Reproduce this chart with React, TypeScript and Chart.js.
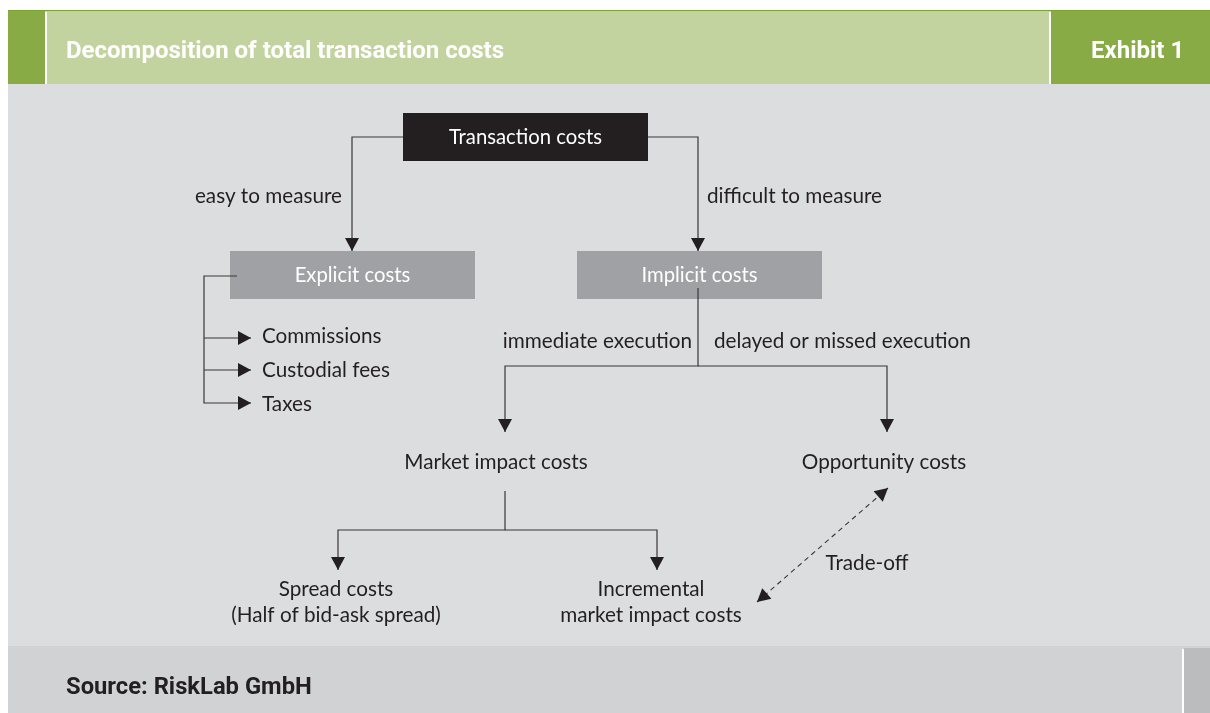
import React, { useEffect, useRef } from "react";
import { Chart, registerables } from "chart.js";

Chart.register(...registerables);

// ---- text content ----
const titleText = "Decomposition of total transaction costs";
const exhibitText = "Exhibit 1";
const sourceText = "Source: RiskLab GmbH";

// ---- boxes (diagram coordinates) ----
const boxLabels = ["Transaction costs", "Explicit costs", "Implicit costs"];
const boxLeft = [403, 230, 577];
const boxRight = [648, 475, 822];
const boxTop = [113, 251, 251];
const boxBottom = [161, 299, 299];
const boxFill = ["#231f20", "#a0a1a4", "#a0a1a4"];

// ---- free labels ----
const labelTexts = [
  "easy to measure",
  "difficult to measure",
  "Commissions",
  "Custodial fees",
  "Taxes",
  "immediate execution",
  "delayed or missed execution",
  "Market impact costs",
  "Opportunity costs",
  "Spread costs",
  "(Half of bid-ask spread)",
  "Incremental",
  "market impact costs",
  "Trade-off",
];
const labelX = [342, 707, 262, 262, 262, 692, 714, 496, 884, 336, 336, 651, 651, 867];
const labelY = [196, 196, 336, 370, 404, 341, 341, 462, 462, 589, 615, 589, 615, 563];
const labelAlign: CanvasTextAlign[] = [
  "right", "left", "left", "left", "left", "right", "left",
  "center", "center", "center", "center", "center", "center", "center",
];

// ---- connectors (polylines) ----
const connectorPaths: number[][][] = [
  [[403, 137], [352, 137], [352, 251]],
  [[648, 137], [698, 137], [698, 251]],
  [[237, 276], [204, 276], [204, 403], [251, 403]],
  [[204, 338], [251, 338]],
  [[204, 370], [251, 370]],
  [[698, 288], [698, 366], [505, 366], [505, 432]],
  [[698, 366], [887, 366], [887, 432]],
  [[505, 491], [505, 530], [338, 530], [338, 570]],
  [[505, 530], [657, 530], [657, 570]],
];
const connectorArrowEnd = [true, true, true, true, true, true, true, true, true];
const tradeOffPath: number[][] = [[757, 602], [888, 488]];

const INK = "#231f20";

function drawText(
  ctx: CanvasRenderingContext2D,
  text: string,
  x: number,
  y: number,
  font: string,
  color: string,
  align: CanvasTextAlign,
  sx = 1
) {
  ctx.save();
  ctx.font = font;
  ctx.fillStyle = color;
  ctx.textBaseline = "middle";
  ctx.textAlign = align;
  ctx.translate(x, y);
  ctx.scale(sx, 1);
  ctx.fillText(text, 0, 0);
  ctx.restore();
}

function arrowHead(ctx: CanvasRenderingContext2D, fx: number, fy: number, tx: number, ty: number, len = 13, half = 7) {
  const dx = tx - fx;
  const dy = ty - fy;
  const d = Math.hypot(dx, dy) || 1;
  const ux = dx / d;
  const uy = dy / d;
  const bx = tx - ux * len;
  const by = ty - uy * len;
  ctx.beginPath();
  ctx.moveTo(tx, ty);
  ctx.lineTo(bx - uy * half, by + ux * half);
  ctx.lineTo(bx + uy * half, by - ux * half);
  ctx.closePath();
  ctx.fillStyle = INK;
  ctx.fill();
}

const diagramPlugin = {
  id: "diagram",
  beforeDraw(chart: any) {
    const { ctx, scales } = chart;
    const X = (v: number) => scales.x.getPixelForValue(v);
    const Y = (v: number) => scales.y.getPixelForValue(v);
    const rect = (x0: number, y0: number, x1: number, y1: number, c: string) => {
      ctx.fillStyle = c;
      ctx.fillRect(X(x0), Y(y0), X(x1) - X(x0), Y(y1) - Y(y0));
    };
    ctx.save();
    // body
    rect(8, 84, 1210, 646, "#dcdddf");
    // header
    rect(8, 10, 1210, 84, "#c3d3a0");
    rect(8, 10, 45, 84, "#89ab46");
    rect(1051, 10, 1210, 84, "#89ab46");
    rect(45, 12, 47, 84, "#ffffff");
    rect(1049, 12, 1051, 84, "#ffffff");
    rect(8, 10, 1210, 11, "#79a332");
    // footer
    rect(8, 646, 1210, 713, "#d1d2d4");
    rect(1184, 648, 1210, 713, "#bbbcbe");
    rect(1182, 649, 1184, 713, "#ffffff");

    drawText(ctx, titleText, X(66), Y(52), "bold 24px Roboto", "#ffffff", "left", 1.0);
    drawText(ctx, exhibitText, X(1091), Y(52), "bold 24px Roboto", "#ffffff", "left", 1.0);
    drawText(ctx, sourceText, X(66), Y(688), "bold 24px Roboto", INK, "left", 0.99);

    // boxes
    for (let i = 0; i < boxLabels.length; i++) {
      rect(boxLeft[i], boxTop[i], boxRight[i], boxBottom[i], boxFill[i]);
    }
    ctx.restore();
  },
  afterDatasetsDraw(chart: any) {
    const { ctx, scales } = chart;
    const X = (v: number) => scales.x.getPixelForValue(v);
    const Y = (v: number) => scales.y.getPixelForValue(v);
    ctx.save();
    chart.data.datasets.forEach((ds: any, i: number) => {
      const meta = chart.getDatasetMeta(i);
      const pts = meta.data;
      if (pts.length < 2) return;
      if (ds.arrowEnd) {
        const a = pts[pts.length - 2];
        const b = pts[pts.length - 1];
        arrowHead(ctx, a.x, a.y, b.x, b.y);
      }
      if (ds.arrowStart) {
        const a = pts[1];
        const b = pts[0];
        arrowHead(ctx, a.x, a.y, b.x, b.y);
      }
    });
    for (let i = 0; i < boxLabels.length; i++) {
      drawText(
        ctx,
        boxLabels[i],
        X((boxLeft[i] + boxRight[i]) / 2),
        Y((boxTop[i] + boxBottom[i]) / 2),
        "20.3px Lato",
        "#ffffff",
        "center"
      );
    }
    for (let i = 0; i < labelTexts.length; i++) {
      drawText(ctx, labelTexts[i], X(labelX[i]), Y(labelY[i]), "20.7px Lato", INK, labelAlign[i]);
    }
    ctx.restore();
  },
};

export default function App() {
  const ref = useRef<HTMLCanvasElement | null>(null);
  useEffect(() => {
    if (!ref.current) return;
    const datasets: any[] = connectorPaths.map((path, i) => ({
      data: path.map(([x, y]) => ({ x, y })),
      showLine: true,
      borderColor: "#3a3637",
      borderWidth: 1.2,
      pointRadius: 0,
      pointHoverRadius: 0,
      fill: false,
      tension: 0,
      arrowEnd: connectorArrowEnd[i],
    }));
    datasets.push({
      data: tradeOffPath.map(([x, y]) => ({ x, y })),
      showLine: true,
      borderColor: "#3a3637",
      borderWidth: 1.1,
      borderDash: [5, 4],
      pointRadius: 0,
      pointHoverRadius: 0,
      fill: false,
      tension: 0,
      arrowEnd: true,
      arrowStart: true,
    });
    const chart = new Chart(ref.current, {
      type: "scatter",
      data: { datasets },
      options: {
        responsive: false,
        maintainAspectRatio: false,
        animation: false,
        events: [],
        layout: { padding: 0 },
        plugins: { legend: { display: false }, tooltip: { enabled: false } },
        scales: {
          x: { type: "linear", min: 8, max: 1210, display: false },
          y: { type: "linear", min: 8, max: 713, reverse: true, display: false },
        },
      },
      plugins: [diagramPlugin],
    });
    return () => chart.destroy();
  }, []);
  return (
    <div style={{ position: "fixed", left: 8, top: 8, width: 1202, height: 705 }}>
      <canvas ref={ref} width={1202} height={705} style={{ display: "block" }} />
    </div>
  );
}
